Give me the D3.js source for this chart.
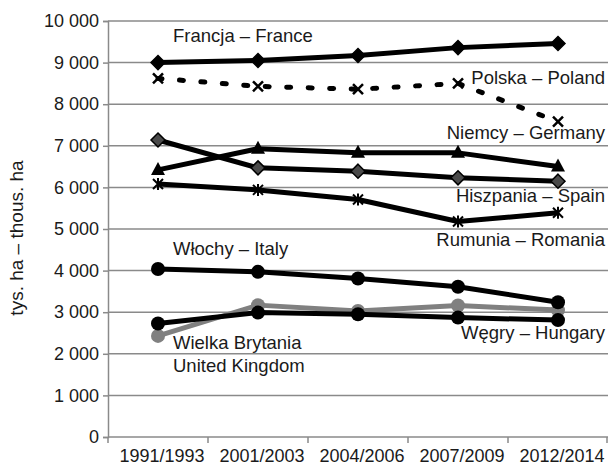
<!DOCTYPE html>
<html>
<head>
<meta charset="utf-8">
<script src="https://cdn.jsdelivr.net/npm/d3@7"></script>
<style>
  body { margin: 0; background: #fff; }
  svg { display: block; font-family: "Liberation Sans", Arial, sans-serif; }
</style>
</head>
<body>
<svg id="chart" width="608" height="466"></svg>
<script>
// periods on the x axis
const periods = ['1991/1993', '2001/2003', '2004/2006', '2007/2009', '2012/2014'];
// y axis ticks
const yTicks = [0, 1000, 2000, 3000, 4000, 5000, 6000, 7000, 8000, 9000, 10000];

// series, thous. ha
const france = [9000, 9050, 9170, 9360, 9460];
const poland = [8620, 8430, 8360, 8500, 7580];
const germany = [6420, 6930, 6830, 6830, 6500];
const spain = [7140, 6470, 6390, 6230, 6150];
const romania = [6080, 5940, 5710, 5180, 5390];
const italy = [4040, 3970, 3810, 3610, 3240];
const uk = [2430, 3170, 3030, 3160, 3050];
const hungary = [2730, 2990, 2950, 2870, 2810];

const svg = d3.select('#chart');
const margin = { top: 21, left: 108, right: 0, bottom: 29 };
const width = 608, height = 466;
const fontSize = 18;

const x = d3.scaleBand()
  .domain(periods)
  .range([margin.left, width - margin.right]);
const y = d3.scaleLinear()
  .domain([0, 10000])
  .range([height - margin.bottom, margin.top]);

const locale = d3.formatLocale({ decimal: ',', thousands: ' ', grouping: [3], currency: ['', ''] });
const fmt = locale.format(',');

const gridColor = '#8a8a8a';

// grid lines
svg.append('g')
  .selectAll('line')
  .data(yTicks.filter(d => d > 0))
  .join('line')
  .attr('x1', margin.left)
  .attr('x2', width)
  .attr('y1', d => y(d))
  .attr('y2', d => y(d))
  .attr('stroke', gridColor)
  .attr('stroke-width', 1.5);

// y axis
const yAxis = svg.append('g')
  .attr('transform', `translate(${margin.left},0)`)
  .call(d3.axisLeft(y).tickValues(yTicks).tickFormat(fmt).tickSize(5).tickPadding(4));
yAxis.select('.domain').attr('stroke', gridColor).attr('stroke-width', 1.5);
yAxis.selectAll('.tick line').attr('stroke', gridColor).attr('stroke-width', 1.5);
yAxis.selectAll('.tick text')
  .attr('font-size', fontSize).attr('fill', '#1a1a1a')
  .attr('font-family', '"Liberation Sans", Arial, sans-serif');

// x axis: labels near band centres, ticks at band edges
const xAxis = svg.append('g')
  .attr('transform', `translate(0,${y(0)})`)
  .call(d3.axisBottom(x).tickSize(0).tickPadding(12));
xAxis.select('.domain').remove();
xAxis.selectAll('.tick text')
  .attr('x', 4)
  .attr('font-size', fontSize).attr('fill', '#1a1a1a')
  .attr('font-family', '"Liberation Sans", Arial, sans-serif');
svg.append('line')
  .attr('x1', margin.left).attr('x2', width)
  .attr('y1', y(0)).attr('y2', y(0))
  .attr('stroke', gridColor).attr('stroke-width', 1.5);
svg.append('g')
  .selectAll('line')
  .data(periods.map(p => x(p)).concat([x.range()[1] - 1]))
  .join('line')
  .attr('x1', d => d).attr('x2', d => d)
  .attr('y1', y(0)).attr('y2', y(0) + 6)
  .attr('stroke', gridColor).attr('stroke-width', 1.5);

// y axis title
svg.append('text')
  .attr('transform', `translate(23,${(y(0) + y(10000)) / 2 + 9}) rotate(-90)`)
  .attr('text-anchor', 'middle')
  .attr('font-size', 19)
  .attr('fill', '#1a1a1a')
  .text('tys. ha – thous. ha');

const px = (d, i) => x(periods[i]) + x.bandwidth() / 2;
const line = d3.line().x(px).y(d => y(d));

const series = [
  { values: uk, color: '#808080', dash: null, marker: 'circle', fill: '#808080' },
  { values: hungary, color: '#000', dash: null, marker: 'circle', fill: '#000' },
  { values: italy, color: '#000', dash: null, marker: 'circle', fill: '#000' },
  { values: romania, color: '#000', dash: null, marker: 'asterisk' },
  { values: spain, color: '#000', dash: null, marker: 'diamond', fill: '#4a4a4a' },
  { values: germany, color: '#000', dash: null, marker: 'triangle', fill: '#000' },
  { values: poland, color: '#000', dash: '4,17.5', marker: 'cross' },
  { values: france, color: '#000', dash: null, marker: 'diamond', fill: '#000' },
];

series.forEach(s => {
  const g = svg.append('g');
  g.append('path')
    .datum(s.values)
    .attr('d', line)
    .attr('fill', 'none')
    .attr('stroke', s.color)
    .attr('stroke-width', 5)
    .attr('stroke-linecap', s.dash ? 'round' : 'butt')
    .attr('stroke-linejoin', 'round')
    .attr('stroke-dasharray', s.dash);

  const pts = g.selectAll('g.pt')
    .data(s.values)
    .join('g')
    .attr('class', 'pt')
    .attr('transform', (d, i) => `translate(${px(d, i)},${y(d)})`);

  if (s.marker === 'circle') {
    pts.append('circle').attr('r', 7).attr('fill', s.fill);
  } else if (s.marker === 'diamond') {
    pts.append('path').attr('d', 'M0,-7L7,0L0,7L-7,0Z')
      .attr('fill', s.fill).attr('stroke', '#000').attr('stroke-width', 1.5);
  } else if (s.marker === 'triangle') {
    pts.append('path').attr('d', 'M0,-8L7,5L-7,5Z').attr('fill', s.fill);
  } else if (s.marker === 'cross') {
    pts.append('path').attr('d', 'M-5,-5L5,5M-5,5L5,-5')
      .attr('stroke', '#000').attr('stroke-width', 2.5);
  } else if (s.marker === 'asterisk') {
    pts.append('path').attr('d', 'M-5,-5L5,5M-5,5L5,-5M0,-6L0,6')
      .attr('stroke', '#000').attr('stroke-width', 2);
  }
});

// series labels
const labels = [
  { text: 'Francja – France', x: 173, y: 42, anchor: 'start' },
  { text: 'Polska – Poland', x: 605, y: 84, anchor: 'end' },
  { text: 'Niemcy – Germany', x: 605, y: 139, anchor: 'end' },
  { text: 'Hiszpania – Spain', x: 605, y: 202, anchor: 'end' },
  { text: 'Rumunia – Romania', x: 605, y: 246, anchor: 'end' },
  { text: 'Włochy – Italy', x: 173, y: 255, anchor: 'start' },
  { text: 'Węgry – Hungary', x: 605, y: 339, anchor: 'end' },
  { text: 'Wielka Brytania', x: 173, y: 349, anchor: 'start' },
  { text: 'United Kingdom', x: 173, y: 372, anchor: 'start' },
];
svg.append('g')
  .selectAll('text')
  .data(labels)
  .join('text')
  .attr('x', d => d.x)
  .attr('y', d => d.y)
  .attr('text-anchor', d => d.anchor)
  .attr('font-size', 18.5)
  .attr('fill', '#1a1a1a')
  .text(d => d.text);
</script>
</body>
</html>
